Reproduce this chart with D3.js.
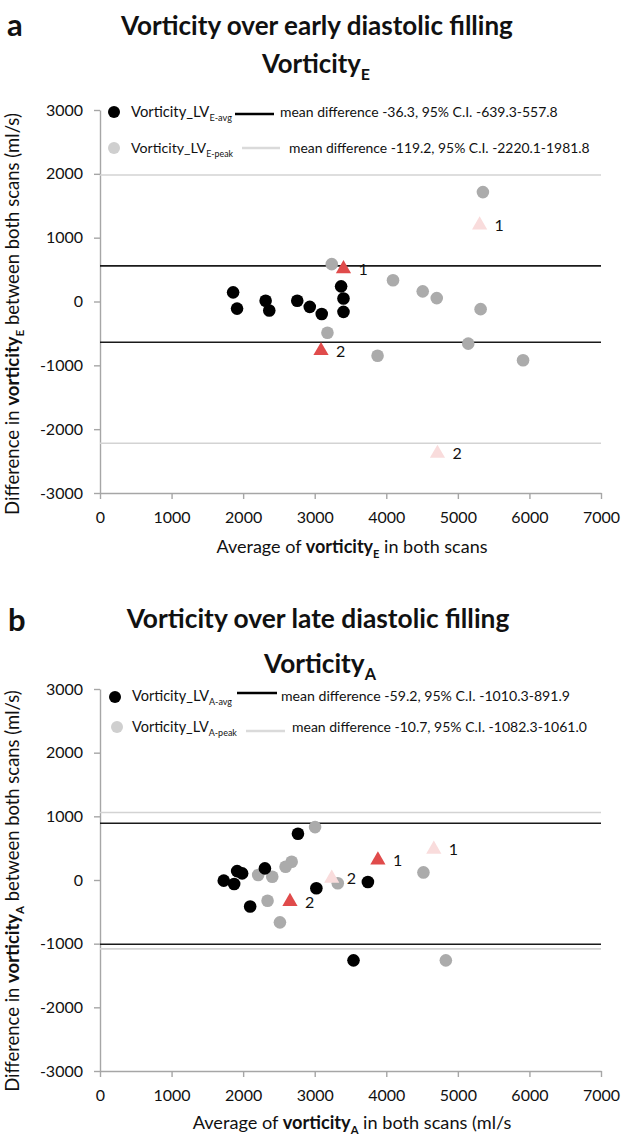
<!DOCTYPE html>
<html><head><meta charset="utf-8">
<script src="https://cdn.jsdelivr.net/npm/d3@7"></script>
<style>
body{margin:0;background:#fff}
svg{display:block}
text{font-family:Lato,"Open Sans",sans-serif;white-space:pre}
</style>
</head><body>
<svg id="c" width="628" height="1136"></svg>
<script>
// ---------- shared ticks ----------
const xTicks = [0, 1000, 2000, 3000, 4000, 5000, 6000, 7000];
const yTicks = [-3000, -2000, -1000, 0, 1000, 2000, 3000];

// ---------- panel a: vorticity E ----------
const aAvgX  = [1860, 1915, 2314, 2365, 2756, 2931, 3098, 3369, 3402, 3402];
const aAvgY  = [143, -111, 11, -142, 11, -84, -195, 237, 48, -162];
const aPeakX = [3238, 3178, 4094, 4509, 4705, 5318, 5350, 3878, 5145, 5911];
const aPeakY = [585, -490, 332, 159, 53, -120, 1714, -850, -660, -920];
const aTriAvgX  = [3402, 3088];
const aTriAvgY  = [512, -770];
const aTriPeakX = [5304, 4715];
const aTriPeakY = [1197, -2380];
const aTriLabels = ["1", "2"];
const aAvgLimits  = [-639.3, 557.8];
const aPeakLimits = [-2220.1, 1981.8];
const aAvgText  = "mean difference -36.3, 95% C.I. -639.3-557.8";
const aPeakText = "mean difference -119.2, 95% C.I. -2220.1-1981.8";

// ---------- panel b: vorticity A ----------
const bAvgX  = [2766, 1916, 1986, 1729, 1874, 2304, 2098, 3023, 3743, 3542];
const bAvgY  = [727, 140, 104, -10, -62, 182, -416, -130, -31, -1262];
const bPeakX = [3005, 2678, 2593, 2210, 2407, 2341, 2514, 3322, 4519, 4832];
const bPeakY = [831, 286, 208, 78, 52, -327, -665, -52, 119, -1262];
const bTriAvgX  = [3883, 2654];
const bTriAvgY  = [312, -338];
const bTriPeakX = [4664, 3238];
const bTriPeakY = [483, 26];
const bTriLabels = ["1", "2"];
const bAvgLimits  = [-1010.3, 891.9];
const bPeakLimits = [-1082.3, 1061.0];
const bAvgText  = "mean difference -59.2, 95% C.I. -1010.3-891.9";
const bPeakText = "mean difference -10.7, 95% C.I. -1082.3-1061.0";

const C = {
  black: "#000000", grey: "#ababab", legendGrey: "#cfcfcf",
  greyLine: "#d3d3d3", red: "#e04b4b", pink: "#f9dcdc", axis: "#a6a6a6", text: "#111111"
};

const svg = d3.select("#c");

function richText(parent, parts, opt) {
  const make = fs => {
    const t = parent.append("text")
      .attr("x", opt.x).attr("y", opt.y)
      .attr("text-anchor", opt.anchor || "start")
      .attr("font-size", fs)
      .attr("font-weight", opt.weight || "normal")
      .attr("fill", opt.fill || C.text);
    if (opt.rotate) t.attr("transform", `rotate(${opt.rotate},${opt.x},${opt.y})`);
    let inSub = false;
    parts.forEach(p => {
      const s = t.append("tspan").text(p.t);
      if (p.b) s.attr("font-weight", "bold");
      if (p.sub) {
        s.attr("font-size", fs * 0.62);
        if (!inSub) { s.attr("dy", fs * 0.27); inSub = true; }
      } else if (inSub) { s.attr("dy", -fs * 0.27); inSub = false; }
    });
    return t;
  };
  let t = make(opt.size);
  if (opt.width) {
    const L = t.node().getComputedTextLength();
    t.remove();
    t = make(opt.size * opt.width / L);
  }
  return t;
}

function panel(cfg) {
  const g = svg.append("g");
  const x = d3.scaleLinear().domain([0, 7000]).range([100, 601]);
  const y = d3.scaleLinear().domain([-3000, 3000]).range([cfg.yBottom, cfg.yTop]);

  // panel letter & titles
  g.append("text").attr("x", cfg.letterX).attr("y", cfg.letterY)
    .attr("font-size", 31).attr("font-weight", "bold").attr("fill", C.text).text(cfg.letter);
  richText(g, [{t: cfg.title}], {x: cfg.titleCx, y: cfg.titleY, anchor: "middle", size: 22, weight: "bold", width: cfg.titleW});
  richText(g, [{t: "Vorticity"}, {t: cfg.sub, sub: true}], {x: cfg.subCx, y: cfg.subY, anchor: "middle", size: 22, weight: "bold", width: cfg.subW});

  // axes
  const xa = g.append("g").attr("transform", `translate(0,${cfg.yBottom})`)
    .call(d3.axisBottom(x).tickValues(xTicks).tickFormat(d3.format("d")).tickSize(6).tickSizeOuter(0).tickPadding(13));
  const ya = g.append("g").attr("transform", `translate(100,0)`)
    .call(d3.axisLeft(y).tickValues(yTicks).tickFormat(d3.format("d")).tickSize(6).tickSizeOuter(0).tickPadding(11));
  [xa, ya].forEach(a => {
    a.select(".domain").attr("stroke", C.axis).attr("stroke-width", 1.4);
    a.selectAll(".tick line").attr("stroke", C.axis).attr("stroke-width", 1.4);
    a.selectAll(".tick text").attr("fill", C.text).attr("font-size", 16)
      .attr("font-family", "Lato, 'Open Sans', sans-serif");
  });
  ya.selectAll(".tick text").text(d => d < 0 ? "-" + Math.abs(d) : d);

  // axis titles
  richText(g, [{t: "Average of "}, {t: "vorticity", b: true}, {t: cfg.sub, b: true, sub: true}, {t: cfg.xTail}],
    {x: 352, y: cfg.xTitleY, anchor: "middle", size: 17, width: cfg.xTitleW});
  richText(g, [{t: "Difference in "}, {t: "vorticity", b: true}, {t: cfg.sub, b: true, sub: true}, {t: " between both scans (ml/s)"}],
    {x: 19, y: cfg.yTitleCy, anchor: "middle", size: 16, width: 402, rotate: -90});

  // limits of agreement
  const lim = g.append("g");
  lim.selectAll("line.peak").data(cfg.peakLimits).join("line").attr("class", "peak")
    .attr("x1", x(0)).attr("x2", x(7000)).attr("y1", d => y(d)).attr("y2", d => y(d))
    .attr("stroke", C.greyLine).attr("stroke-width", 1.6);
  lim.selectAll("line.avg").data(cfg.avgLimits).join("line").attr("class", "avg")
    .attr("x1", x(0)).attr("x2", x(7000)).attr("y1", d => y(d)).attr("y2", d => y(d))
    .attr("stroke", "#1a1a1a").attr("stroke-width", 1.6);

  // points
  g.append("g").selectAll("circle").data(d3.zip(cfg.peakX, cfg.peakY)).join("circle")
    .attr("cx", d => x(d[0])).attr("cy", d => y(d[1])).attr("r", 6.3).attr("fill", C.grey);
  g.append("g").selectAll("circle").data(d3.zip(cfg.avgX, cfg.avgY)).join("circle")
    .attr("cx", d => x(d[0])).attr("cy", d => y(d[1])).attr("r", 6.3).attr("fill", C.black);

  // triangles with labels
  const tri = d3.symbol().type(d3.symbolTriangle).size(100);
  const triSets = [
    {xs: cfg.triPeakX, ys: cfg.triPeakY, fill: C.pink},
    {xs: cfg.triAvgX, ys: cfg.triAvgY, fill: C.red}
  ];
  triSets.forEach(s => {
    const data = d3.zip(s.xs, s.ys, cfg.triLabels);
    const tg = g.append("g");
    tg.selectAll("path").data(data).join("path")
      .attr("d", tri).attr("transform", d => `translate(${x(d[0])},${y(d[1])})`).attr("fill", s.fill);
    tg.selectAll("text").data(data).join("text")
      .attr("x", d => x(d[0]) + 15).attr("y", d => y(d[1]) + 6)
      .attr("font-size", 16).attr("fill", C.text).text(d => d[2]);
  });

  // legend
  const L = g.append("g");
  const rows = [
    {cx: cfg.leg[0].cx, cy: cfg.leg[0].cy, fill: C.black, label: cfg.sub + "-avg", tx: cfg.leg[0].tx, ty: cfg.leg[0].ty, tw: cfg.leg[0].tw,
     lx1: cfg.leg[0].lx1, lx2: cfg.leg[0].lx2, ly: cfg.leg[0].ly, lc: "#000", lw: 2.6, mx: cfg.leg[0].mx, mw: cfg.leg[0].mw, mt: cfg.avgText},
    {cx: cfg.leg[1].cx, cy: cfg.leg[1].cy, fill: C.legendGrey, label: cfg.sub + "-peak", tx: cfg.leg[1].tx, ty: cfg.leg[1].ty, tw: cfg.leg[1].tw,
     lx1: cfg.leg[1].lx1, lx2: cfg.leg[1].lx2, ly: cfg.leg[1].ly, lc: "#dadada", lw: 2.6, mx: cfg.leg[1].mx, mw: cfg.leg[1].mw, mt: cfg.peakText}
  ];
  rows.forEach(r => {
    L.append("circle").attr("cx", r.cx).attr("cy", r.cy).attr("r", 6).attr("fill", r.fill);
    richText(L, [{t: "Vorticity_LV"}, {t: r.label, sub: true}], {x: r.tx, y: r.ty, size: 13, width: r.tw});
    L.append("line").attr("x1", r.lx1).attr("x2", r.lx2).attr("y1", r.ly).attr("y2", r.ly)
      .attr("stroke", r.lc).attr("stroke-width", r.lw);
    richText(L, [{t: r.mt}], {x: r.mx, y: r.ty, size: 13, width: r.mw});
  });
}

panel({
  letter: "a", letterX: 7, letterY: 36,
  title: "Vorticity over early diastolic filling", titleCx: 317, titleY: 35, titleW: 392,
  sub: "E", subCx: 316, subY: 73, subW: 108,
  yTop: 110, yBottom: 493, xTitleY: 553, xTitleW: 271, xTail: " in both scans", yTitleCy: 314,
  avgX: aAvgX, avgY: aAvgY, peakX: aPeakX, peakY: aPeakY,
  triAvgX: aTriAvgX, triAvgY: aTriAvgY, triPeakX: aTriPeakX, triPeakY: aTriPeakY, triLabels: aTriLabels,
  avgLimits: aAvgLimits, peakLimits: aPeakLimits, avgText: aAvgText, peakText: aPeakText,
  leg: [
    {cx: 114, cy: 112, tx: 131, ty: 117, tw: 101, lx1: 235, lx2: 274, ly: 114, mx: 280, mw: 278},
    {cx: 114, cy: 148, tx: 131, ty: 153, tw: 102, lx1: 242, lx2: 280, ly: 148, mx: 289, mw: 301}
  ]
});

panel({
  letter: "b", letterX: 8, letterY: 631,
  title: "Vorticity over late diastolic filling", titleCx: 318, titleY: 628, titleW: 383,
  sub: "A", subCx: 320, subY: 673, subW: 112,
  yTop: 689, yBottom: 1071, xTitleY: 1129, xTitleW: 319, xTail: " in both scans (ml/s", yTitleCy: 891,
  avgX: bAvgX, avgY: bAvgY, peakX: bPeakX, peakY: bPeakY,
  triAvgX: bTriAvgX, triAvgY: bTriAvgY, triPeakX: bTriPeakX, triPeakY: bTriPeakY, triLabels: bTriLabels,
  avgLimits: bAvgLimits, peakLimits: bPeakLimits, avgText: bAvgText, peakText: bPeakText,
  leg: [
    {cx: 115, cy: 697, tx: 132, ty: 701, tw: 100, lx1: 237, lx2: 277, ly: 693, mx: 281, mw: 289},
    {cx: 117, cy: 727, tx: 132, ty: 732, tw: 105, lx1: 246, lx2: 285, ly: 731, mx: 292, mw: 295}
  ]
});
</script>
</body></html>
